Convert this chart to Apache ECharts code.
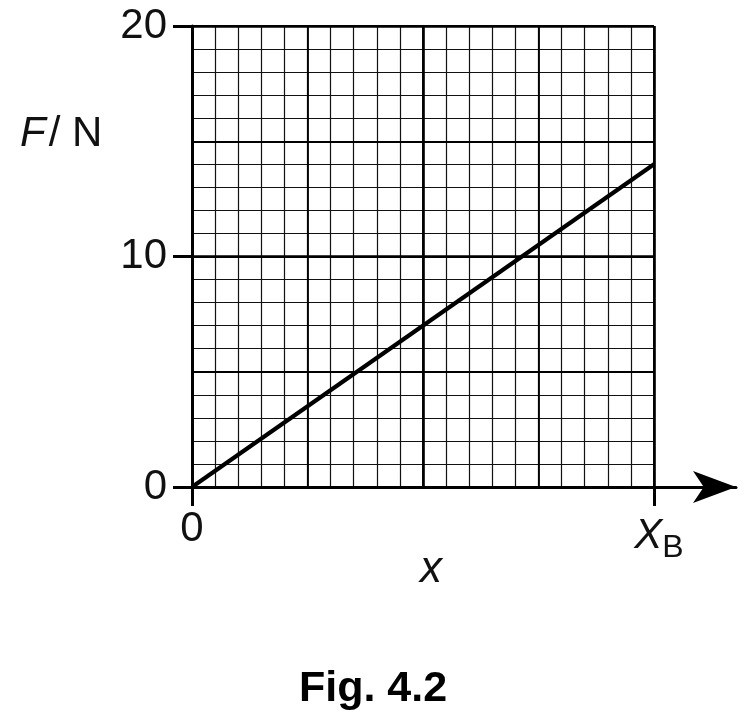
<!DOCTYPE html>
<html>
<head>
<meta charset="utf-8">
<script src="https://cdn.jsdelivr.net/npm/echarts@6/dist/echarts.min.js"></script>
<style>
html,body{margin:0;padding:0;background:#fff;}
#chart{width:746px;height:721px;}
</style>
</head>
<body>
<div id="chart"></div>
<script>
// ---- data ----
const xValues = [0, 20];          // x from 0 to X_B (20 small squares)
const forceValues = [0, 14];      // F / N
const xTickValues = [0, 20];
const xTickLabels = ['0', 'X_B'];
const yTickValues = [0, 10, 20];
const xMin = 0, xMax = 20, yMin = 0, yMax = 20;

const FONT = '"Liberation Sans", Arial, Helvetica, sans-serif';
const INK = '#111';
const gridRect = { left: 192, top: 26, width: 462, height: 461 };

function hiddenAxis(extra) {
  return Object.assign({
    type: 'value', min: xMin, max: xMax,
    axisLine: { show: false }, axisTick: { show: false }, axisLabel: { show: false }
  }, extra);
}

const grids = [
  Object.assign({}, gridRect),
  Object.assign({}, gridRect),
  Object.assign({}, gridRect),
  Object.assign({}, gridRect),
  { left: 192, top: 26, width: 544, height: 461 }
];

const splitSpecs = [
  { interval: 1, width: 1.2, color: '#111' },
  { interval: 5, width: 1.8, color: '#000' },
  { interval: 10, width: 2.6, color: '#000' }
];

const xAxes = [], yAxes = [];
splitSpecs.forEach((s, i) => {
  xAxes.push(hiddenAxis({ gridIndex: i, interval: s.interval, z: i,
    splitLine: { show: true, lineStyle: { color: s.color, width: s.width } } }));
  yAxes.push(hiddenAxis({ gridIndex: i, min: yMin, max: yMax, interval: s.interval, z: i,
    splitLine: { show: true, lineStyle: { color: s.color, width: s.width } } }));
});

// main axes (grid 3)
xAxes.push({
  type: 'value', gridIndex: 3, min: xMin, max: xMax, interval: 10, z: 5,
  splitLine: { show: false },
  axisLine: { show: true, lineStyle: { color: '#000', width: 3 } },
  axisTick: { show: true, customValues: xTickValues, length: 19, inside: false,
    lineStyle: { color: '#000', width: 3 } },
  axisLabel: {
    show: true, customValues: xTickValues, margin: 21,
    formatter: function (v) {
      const idx = xTickValues.indexOf(v);
      const t = xTickLabels[idx];
      if (t === 'X_B') return '{i|X}{s|B}';
      return '{n|' + t + '}';
    },
    rich: {
      n: { fontFamily: FONT, fontSize: 42, color: INK },
      i: { fontFamily: FONT, fontSize: 42, fontStyle: 'italic', color: INK, padding: [0, 0, 0, 10] },
      s: { fontFamily: FONT, fontSize: 32, color: INK, padding: [24, 0, 0, 0] }
    }
  },
  name: 'x', nameLocation: 'middle', nameGap: 61, nameMoveOverlap: false,
  nameTextStyle: { fontFamily: FONT, fontSize: 44, fontStyle: 'italic', color: INK, padding: [0, 0, 0, 16] }
});
yAxes.push({
  type: 'value', gridIndex: 3, min: yMin, max: yMax, interval: 10, z: 5,
  splitLine: { show: false },
  axisLine: { show: true, lineStyle: { color: '#000', width: 3 } },
  axisTick: { show: true, customValues: yTickValues, length: 19, inside: false,
    lineStyle: { color: '#000', width: 3 } },
  axisLabel: { show: true, customValues: yTickValues, margin: 25,
    fontFamily: FONT, fontSize: 42, color: INK }
});

// arrow extension of x axis (grid 4)
xAxes.push({
  type: 'value', gridIndex: 4, min: 0, max: 1, z: 4,
  splitLine: { show: false }, axisTick: { show: false }, axisLabel: { show: false },
  axisLine: { show: true, symbol: ['none', 'arrow'], symbolSize: [24, 43],
    lineStyle: { color: '#000', width: 3 } }
});
yAxes.push({
  type: 'value', gridIndex: 4, min: 0, max: 1, show: false
});

const option = {
  backgroundColor: '#fff',
  animation: false,
  grid: grids,
  xAxis: xAxes,
  yAxis: yAxes,
  title: {
    text: 'Fig. 4.2', left: 'center', top: 663,
    textStyle: { fontFamily: FONT, fontSize: 43, fontWeight: 'bold', color: '#000' }
  },
  graphic: [{
    type: 'text', left: 20, top: 113, z: 10,
    style: {
      text: '{i|F}{r|/ N}',
      rich: {
        i: { fontFamily: FONT, fontSize: 42, fontStyle: 'italic', fill: INK, padding: [0, 3, 0, 0] },
        r: { fontFamily: FONT, fontSize: 42, fill: INK }
      }
    }
  }],
  series: [{
    type: 'line',
    xAxisIndex: 3, yAxisIndex: 3,
    data: xValues.map((x, i) => [x, forceValues[i]]),
    symbol: 'none',
    z: 10,
    lineStyle: { color: '#000', width: 4.2 }
  }]
};

const chart = echarts.init(document.getElementById('chart'), null, { renderer: 'canvas' });
chart.setOption(option);
</script>
</body>
</html>
